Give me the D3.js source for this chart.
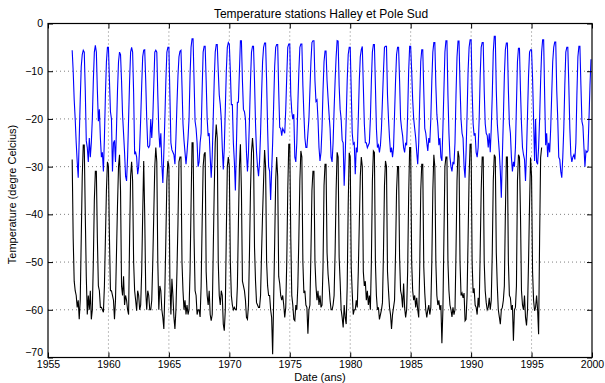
<!DOCTYPE html>
<html>
<head>
<meta charset="utf-8">
<script src="https://cdn.jsdelivr.net/npm/d3@7"></script>
<style>
  body { margin: 0; background: #fff; }
  text { font-family: "Liberation Sans", Arial, Helvetica, sans-serif; }
</style>
</head>
<body>
<div id="chart"></div>
<script>
// monthly mean temperatures, one row per year (Jan..Dec)
const halleyStart = 1957;
const halleyTemps = [
  -5.6, -10, -16, -20, -25, -29, -32.3, -24, -16, -9, -6.5, -5.6,
  -6, -14, -24.6, -26, -29, -24, -28, -25, -20, -12, -6, -4.6,
  -6, -14, -20.5, -18, -24, -28, -27, -31, -24, -15, -8, -5,
  -5, -12, -18.5, -20, -31, -25, -24.5, -29, -22, -14, -8, -6,
  -6.5, -12, -19, -23, -27, -32, -33, -28, -20, -12, -6, -5,
  -6, -14.5, -27.4, -27, -28, -31.6, -30, -26, -20, -13, -7, -5.6,
  -5.5, -12, -20, -25.7, -26, -25.5, -20, -24, -20, -13, -6, -5.6,
  -6, -15, -22.5, -26, -23, -29.5, -33.4, -27, -20, -12, -6, -5,
  -5, -15, -25, -26.5, -27, -27.5, -29.5, -24, -17, -11, -7, -5.8,
  -5.6, -13, -21, -24.5, -27, -29.5, -27, -24, -20, -11, -5, -3.2,
  -3.2, -12, -20.5, -22, -25, -30, -29, -25, -23, -14, -6, -4.8,
  -4.8, -12, -20, -23.6, -23, -28, -32.3, -28, -20, -12, -6, -4.4,
  -4.4, -10, -15, -17, -20, -26, -30.6, -26, -18, -10, -5, -4,
  -4.4, -10, -17, -17, -25, -29, -35, -26, -16.5, -16.5, -10, -3.6,
  -3.6, -12, -18, -18.5, -20, -27, -31, -27, -20, -12, -6, -4.8,
  -4.8, -12, -21, -27, -30, -32, -29, -23, -15, -8, -5, -4.1,
  -4.1, -12, -22, -30, -31, -37, -31, -25, -17, -9, -5, -4.4,
  -4.4, -14, -21.8, -22, -23.5, -22, -22.5, -23, -18, -11, -5, -4.3,
  -4.3, -15, -18.5, -20, -19, -28, -29, -25, -17, -10, -5, -4.3,
  -4.3, -13, -19, -24, -26, -26, -23, -20, -14, -8, -4, -3.6,
  -3.6, -12, -16.3, -16, -20, -26, -28.8, -27, -22, -14, -8, -5.8,
  -5.8, -12, -15.6, -19, -22, -28, -29, -25, -18, -12, -7, -3.6,
  -3.7, -13, -18, -20, -24.5, -25, -34, -28, -20, -12, -6.5, -5,
  -5, -14, -23, -25.3, -25, -31.6, -26, -27, -20, -12, -7, -5.5,
  -4.8, -13, -21, -25, -25, -26, -25.5, -25, -20, -12, -6, -4.4,
  -4.4, -13, -22, -26, -25.5, -27, -25.5, -22, -16, -10, -5, -4.8,
  -4.8, -15, -20, -24, -27, -26, -28, -26, -19, -12, -6.5, -5,
  -5, -12, -20, -22, -23.5, -26, -27, -25, -25.5, -19, -10, -4.8,
  -4.8, -10, -16, -20, -22, -24, -27, -29.5, -25, -16, -8, -5.5,
  -5.5, -14, -22, -23, -25, -26.7, -24, -25, -20, -12, -6, -4,
  -4, -13, -19, -21.5, -25.5, -24, -28, -28.8, -22, -14, -6, -3.6,
  -3.6, -15, -23, -28, -30, -31, -29, -29.5, -25, -15, -7, -3.7,
  -3.7, -13, -20, -23, -24, -30, -32.3, -27, -19, -10, -5, -3.4,
  -3.4, -14, -21, -23.5, -23, -27, -28, -26, -20, -11, -5, -4,
  -4, -14, -21, -23, -23.5, -26, -23, -27, -22, -15, -6, -2.7,
  -2.7, -14, -21, -24, -27, -31, -36.5, -28, -20, -11, -5.5, -4.1,
  -4.1, -14, -21, -23, -28, -31, -29, -30, -26, -17, -8, -5.2,
  -5.2, -14, -21, -26, -27.5, -28.5, -33, -27, -19, -11, -6, -5.5,
  -5.5, -11.5, -20, -28.8, -20, -29, -29.5, -26, -20, -12, -6, -3.4,
  -3.4, -15, -25.5, -23, -28, -25, -27, -22, -15, -8, -5, -3.9,
  -3.9, -14, -20, -28, -28.5, -31, -32.3, -28, -22, -13, -6, -5,
  -5, -13, -22, -27.5, -29, -28, -27.5, -28.5, -25, -15, -7, -4.8,
  -4.8, -13, -20.5, -21.5, -26, -30, -26.7, -27, -26.7, -20, -13, -7.5
];

const poleStart = 1957;
const poleTemps = [
  -28.5, -45, -54, -56, -57, -59.5, -58, -62, -58, -45, -32, -25.5,
  -25.5, -40, -53, -61, -57, -60, -56, -62, -60, -50, -37, -31,
  -31, -45, -55, -56, -59.5, -59.5, -60, -60.5, -55, -45, -35, -29,
  -30, -45, -56, -56, -57, -58, -62, -58, -48, -38, -30, -27.5,
  -35, -55, -57, -53, -59, -57, -58, -60, -61, -45, -32, -29,
  -33, -50, -56, -58, -60.2, -56, -57, -60, -59, -52, -40, -28.8,
  -40, -56, -60, -56, -57, -60, -60, -58, -50, -40, -30, -26,
  -29, -50, -60, -55, -56, -60, -61.6, -64, -56, -45, -33, -28.8,
  -30, -54, -61, -53.5, -57, -61.6, -64, -60, -52, -42, -29, -28,
  -28, -50, -56, -60, -58, -61, -59, -61, -60, -52, -38, -25,
  -25, -45, -56, -57, -61, -60, -60, -61.5, -55, -42, -30, -27.4,
  -27, -52, -57, -59, -56, -61, -62.3, -61, -48, -35, -25, -21.2,
  -24, -50, -57, -59, -56, -57, -63, -64.4, -60, -44, -30, -28,
  -30, -50, -57, -59, -60, -59.5, -60, -60, -55, -42, -30, -25.3,
  -35, -54, -55, -56, -58, -61.6, -62, -59, -48, -35, -27, -24,
  -27, -47, -54, -58.5, -59, -59.5, -59.5, -57, -48, -40, -33, -26.5,
  -30, -50, -55, -57, -57, -60, -61.6, -69.3, -58, -46, -33, -28,
  -32, -53, -54.5, -57, -58, -57, -59, -61.6, -59.5, -50, -35, -25.3,
  -25.3, -45, -57, -59, -62, -62.3, -59, -60, -55, -45, -33, -26.7,
  -28, -50, -56.5, -56, -59, -59.5, -65, -60, -59, -48, -35, -31,
  -31, -50, -55, -58, -56, -59, -57, -59.5, -59, -51, -34, -29.5,
  -29.5, -48, -52.5, -55, -58, -60, -60, -59, -57, -48, -35, -27,
  -28, -49, -54, -60, -61.6, -63.7, -59, -61.6, -63, -55, -38, -27.1,
  -28, -51, -56.5, -61, -60, -60, -58, -59.5, -52, -42, -32, -28,
  -30, -52, -55, -54, -58, -56, -59, -57, -60, -50, -33, -26.7,
  -27, -50, -57, -60, -59.5, -62, -61, -60, -58.5, -48, -34, -28.8,
  -30, -52, -56, -59.5, -61, -64, -61, -59.5, -58, -48, -35, -30,
  -30, -49, -56, -57, -59.5, -54.5, -59.5, -61.6, -60, -52, -36, -26,
  -26, -50, -56, -58, -57, -59.5, -57.5, -60, -61.6, -51, -35, -29.5,
  -29.5, -51, -56.5, -60, -61.6, -60, -59, -61, -59.5, -50, -35, -27.5,
  -30, -50, -57, -59, -58, -60, -59, -67, -60, -45, -30, -28,
  -28, -50, -56, -59, -60, -61.5, -59.5, -61, -60, -48, -33, -26.7,
  -28, -50, -57, -56.5, -57.5, -56.5, -62.3, -62, -57, -45, -32, -25.3,
  -25.3, -50, -56.5, -55.5, -59, -59.5, -61, -57.5, -59.5, -48, -35, -28,
  -28, -50, -56, -58.5, -60, -59.5, -57.5, -60, -58, -48, -33, -27.5,
  -28, -48, -55, -60, -61.5, -63, -60, -59.5, -58, -55, -40, -28,
  -28, -50, -57, -57.5, -60, -59, -66.5, -60, -59.5, -55, -33, -27.5,
  -28, -40, -56, -59, -60, -57, -61.6, -63.3, -60, -50, -38, -28.1,
  -32, -52, -58, -60.2, -59.5, -57, -60, -65.1, -45, -28.1, -26
];

const xTicks = [1955, 1960, 1965, 1970, 1975, 1980, 1985, 1990, 1995, 2000];
const yTicks = [-70, -60, -50, -40, -30, -20, -10, 0];

const width = 605, height = 383;
const plotL = 48, plotR = 592, plotT = 23.5, plotB = 357.5;

const svg = d3.select('#chart').append('svg')
  .attr('width', width)
  .attr('height', height)
  .style('background', '#fff');

const x = d3.scaleLinear().domain([1955, 2000]).range([plotL, plotR]);
const y = d3.scaleLinear().domain([-70, 0]).range([plotB, plotT]);

// dotted grid
svg.append('g').selectAll('line')
  .data(xTicks.slice(1, -1))
  .enter().append('line')
  .attr('x1', d => x(d)).attr('x2', d => x(d))
  .attr('y1', plotT).attr('y2', plotB)
  .attr('stroke', '#000').attr('stroke-opacity', 0.5)
  .attr('stroke-dasharray', '1,3');
svg.append('g').selectAll('line')
  .data(yTicks.slice(1, -1))
  .enter().append('line')
  .attr('x1', plotL).attr('x2', plotR)
  .attr('y1', d => y(d)).attr('y2', d => y(d))
  .attr('stroke', '#000').attr('stroke-opacity', 0.5)
  .attr('stroke-dasharray', '1,3');

// series
const toPoints = (start, temps) => temps.map((v, i) => ({ t: start + i / 12, v: v }));
const line = d3.line().x(d => x(d.t)).y(d => y(d.v));

svg.append('path')
  .datum(toPoints(poleStart, poleTemps))
  .attr('d', line)
  .attr('fill', 'none')
  .attr('stroke', '#000')
  .attr('stroke-width', 1.1);

svg.append('path')
  .datum(toPoints(halleyStart, halleyTemps))
  .attr('d', line)
  .attr('fill', 'none')
  .attr('stroke', '#0000ff')
  .attr('stroke-width', 1.1);

// axes, matlab style: ticks inside on every side
const fmt = d3.format('d');
svg.append('g')
  .attr('transform', `translate(0,${plotB})`)
  .call(d3.axisBottom(x).tickValues(xTicks).tickFormat(fmt).tickSizeInner(-5).tickSizeOuter(0).tickPadding(3));
const yAxisG = svg.append('g')
  .attr('transform', `translate(${plotL},0)`)
  .call(d3.axisLeft(y).tickValues(yTicks).tickSizeInner(-5).tickSizeOuter(0).tickPadding(5));
svg.append('g')
  .attr('transform', `translate(0,${plotT})`)
  .call(d3.axisTop(x).tickValues(xTicks).tickFormat('').tickSizeInner(-5).tickSizeOuter(0));
svg.append('g')
  .attr('transform', `translate(${plotR},0)`)
  .call(d3.axisRight(y).tickValues(yTicks).tickFormat('').tickSizeInner(-5).tickSizeOuter(0));

svg.selectAll('.domain').remove();
svg.selectAll('.tick line').attr('stroke', '#000');
svg.selectAll('.tick text')
  .attr('fill', '#000')
  .style('font-size', '10.5px')
  .style('font-family', '"Liberation Sans", Arial, sans-serif');

// lowest y label sits a little higher so it clears the first year label
yAxisG.selectAll('.tick text')
  .filter(d => d === yTicks[0])
  .attr('y', -5);

svg.append('rect')
  .attr('x', plotL).attr('y', plotT)
  .attr('width', plotR - plotL).attr('height', plotB - plotT)
  .attr('fill', 'none').attr('stroke', '#000').attr('stroke-width', 1.2);

// labels
svg.append('text')
  .attr('x', 321).attr('y', 18)
  .attr('text-anchor', 'middle')
  .style('font-size', '12px')
  .text('Temperature stations Halley et Pole Sud');

svg.append('text')
  .attr('x', (plotL + plotR) / 2).attr('y', 381)
  .attr('text-anchor', 'middle')
  .style('font-size', '11px')
  .text('Date (ans)');

svg.append('text')
  .attr('transform', `translate(16,${(plotT + plotB) / 2 + 4}) rotate(-90)`)
  .attr('text-anchor', 'middle')
  .style('font-size', '11px')
  .text('Temperature (degre Celcius)');
</script>
</body>
</html>
